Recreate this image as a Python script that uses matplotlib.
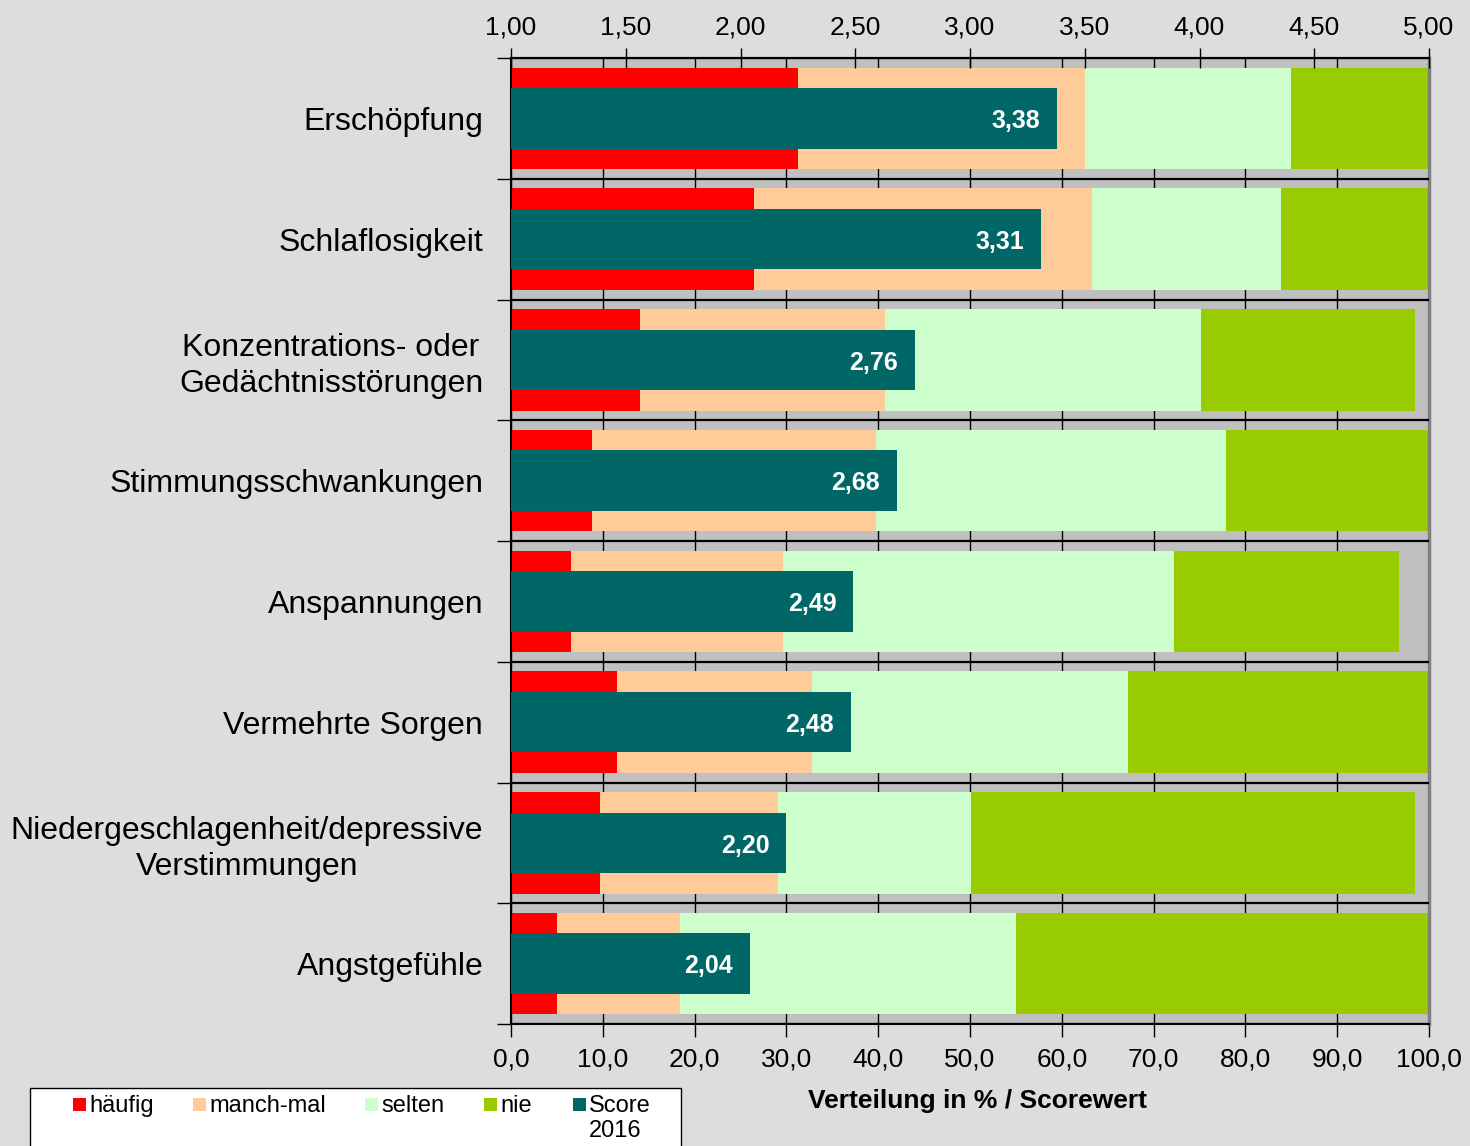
import matplotlib
matplotlib.use("Agg")
import matplotlib.pyplot as plt
from matplotlib.patches import Rectangle
from matplotlib.ticker import FuncFormatter

plt.rcParams['font.family'] = ['Liberation Sans', 'DejaVu Sans']

# Daten
kategorien = ["Erschöpfung", "Schlaflosigkeit", "Konzentrations- oder\nGedächtnisstörungen",
              "Stimmungsschwankungen", "Anspannungen", "Vermehrte Sorgen",
              "Niedergeschlagenheit/depressive\nVerstimmungen", "Angstgefühle"]
haeufig = [31.3, 26.5, 14.1, 8.8, 6.5, 11.5, 9.7, 5.0]
manchmal = [31.2, 36.8, 26.6, 31.0, 23.1, 21.3, 19.4, 13.4]
selten = [22.5, 20.6, 34.5, 38.1, 42.6, 34.4, 21.0, 36.6]
nie = [15.0, 16.1, 23.3, 22.1, 24.5, 32.8, 48.4, 45.0]
score = [3.38, 3.31, 2.76, 2.68, 2.49, 2.48, 2.20, 2.04]

farben = ["#ff0000", "#ffcc99", "#ccffcc", "#99cc00"]
teal = "#006666"
namen = ["häufig", "manch-mal", "selten", "nie", "Score\n2016"]

W, H = 1470, 1146
fig = plt.figure(figsize=(W/100, H/100), dpi=100, facecolor="#dddddd")
ax = fig.add_axes([511/W, 1-1024/H, 918/W, 966/H])
ax.set_facecolor("#c0c0c0")

y = list(range(len(kategorien)))
links = [0]*len(y)
for werte, f in zip([haeufig, manchmal, selten, nie], farben):
    ax.barh(y, werte, left=links, height=0.84, color=f, zorder=2)
    links = [a + b for a, b in zip(links, werte)]

ax.set_xlim(0, 100)
ax.set_ylim(len(y) - 0.5, -0.5)
ax.set_xticks(range(0, 101, 10))
ax.xaxis.set_major_formatter(FuncFormatter(lambda v, p: f"{v:.1f}".replace(".", ",")))
ax.grid(axis="x", color="black", lw=1)
ax.set_axisbelow(True)
ax.tick_params(axis="x", direction="out", length=9, width=1, labelsize=19, pad=8)

# Trennlinien zwischen Kategorien
grenzen = [i - 0.5 for i in range(len(y) + 1)]
for g in grenzen:
    ax.axhline(g, color="black", lw=1.6, zorder=3)
ax.set_yticks(grenzen)
ax.set_yticklabels([])
ax.tick_params(axis="y", which="major", direction="out", length=10, width=1)
ax.set_yticks(y, minor=True)
ax.set_yticklabels(kategorien, minor=True, fontsize=23, linespacing=1.25)
ax.tick_params(axis="y", which="minor", length=0, pad=20)
for lab in ax.get_yticklabels(minor=True):
    lab.set_multialignment("center")

for s in ["top", "bottom", "left"]:
    ax.spines[s].set_color("black")
    ax.spines[s].set_linewidth(1.5)
ax.spines["right"].set_color("#808080")
ax.spines["right"].set_linewidth(2.5)

# Score-Achse oben
ax2 = ax.twiny()
ax2.set_xlim(1, 5)
ax2.barh(y, [s - 1 for s in score], left=1, height=0.5, color=teal, zorder=4)
for yi, s in zip(y, score):
    ax2.annotate(f"{s:.2f}".replace(".", ","), (s, yi), xytext=(-12, -2),
                 textcoords="offset points", ha="right", va="center",
                 color="white", fontsize=18, fontweight="bold", zorder=6)
ax2.set_xticks([1 + 0.5*i for i in range(9)])
ax2.xaxis.set_major_formatter(FuncFormatter(lambda v, p: f"{v:.2f}".replace(".", ",")))
ax2.tick_params(axis="x", direction="inout", length=14, width=1, labelsize=19, pad=6)
for s in ["bottom", "left", "right"]:
    ax2.spines[s].set_visible(False)
ax2.spines["top"].set_linewidth(1.5)

fig.text(977/W, 1-1101/H, "Verteilung in % / Scorewert", ha="center", va="center",
         fontsize=19, fontweight="bold")

# Legende
fig.patches.append(Rectangle((30/W, 1-1160/H), 651/W, 72/H, transform=fig.transFigure,
                             facecolor="white", edgecolor="black", lw=1))
spalten = [73, 193, 365, 484, 573]
for x0, name, f in zip(spalten, namen, farben + [teal]):
    fig.patches.append(Rectangle((x0/W, 1-1111/H), 13/W, 13/H, transform=fig.transFigure,
                                 facecolor=f, edgecolor="none"))
    fig.text((x0 + 16)/W, 1-1095/H, name, ha="left", va="top", fontsize=17, linespacing=1.2)

fig.savefig("out.png", dpi=100, facecolor=fig.get_facecolor())
